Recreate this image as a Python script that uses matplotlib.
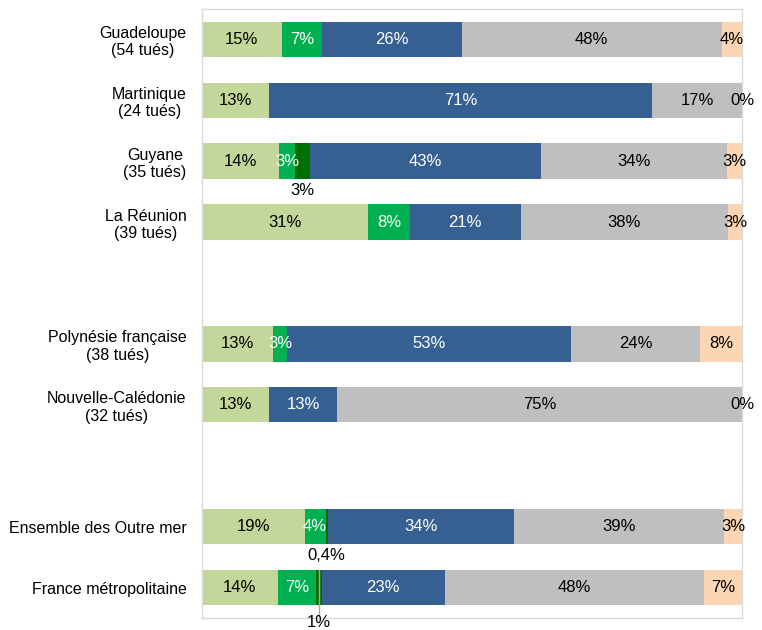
import numpy as np
import matplotlib.pyplot as plt

plt.rcParams['font.family'] = ['Liberation Sans', 'DejaVu Sans']

# "" = empty row used as a gap between groups
categories = ["Guadeloupe\n(54 tués)", "Martinique\n(24 tués)", "Guyane\n(35 tués)",
              "La Réunion\n(39 tués)", "", "Polynésie française\n(38 tués)",
              "Nouvelle-Calédonie\n(32 tués)", "", "Ensemble des Outre mer",
              "France métropolitaine"]
nan = np.nan
light_green = [14.8, 12.5, 14.3, 30.8, nan, 13.2, 12.5, nan, 19.0, 14.0]
green = [7.4, 0, 2.9, 7.7, nan, 2.6, 0, nan, 3.9, 7.2]
dark_green = [0, 0, 2.8, 0, nan, 0, 0, nan, 0.4, 1.0]
blue = [25.9, 70.8, 42.8, 20.5, nan, 52.6, 12.5, nan, 34.4, 22.7]
grey = [48.1, 16.7, 34.3, 38.4, nan, 23.7, 75.0, nan, 38.9, 48.0]
peach = [3.7, 0, 2.9, 2.6, nan, 7.9, 0, nan, 3.4, 7.0]

series = [light_green, green, dark_green, blue, grey, peach]
colors = ['#C4D79B', '#00B050', '#006F00', '#376092', '#BFBFBF', '#FCD5B4']
text_colors = ['black', 'white', 'black', 'white', 'black', 'black']


def fmt(v):
    if 0 < v < 1:
        return f"{v:.1f}%".replace('.', ',')
    return f"{int(v + 0.5)}%"


fig, ax = plt.subplots(figsize=(7.62, 6.3), dpi=100)
fig.subplots_adjust(left=0.265, right=0.974, bottom=0.019, top=0.986)

y = np.arange(len(categories))
left = np.zeros(len(categories))
for k, (vals, col, tcol) in enumerate(zip(series, colors, text_colors)):
    vals = np.array(vals, dtype=float)
    ax.barh(y, np.nan_to_num(vals), left=left, height=0.58, color=col,
            edgecolor='none')
    for i, v in enumerate(vals):
        if np.isnan(v):
            continue
        xc = left[i] + v / 2
        if k == 2:
            # dark green share: label below the bar
            if v > 0:
                if i == len(categories) - 1:
                    ax.plot([xc, xc], [y[i] - 0.29, y[i] + 0.47], color='#A6A6A6',
                            lw=1, clip_on=False, zorder=3)
                    ax.text(xc, y[i] + 0.57, fmt(v), ha='center', va='center',
                            fontsize=12, color='black', clip_on=False)
                else:
                    ax.text(xc, y[i] + 0.48, fmt(v), ha='center', va='center',
                            fontsize=12, color='black')
            continue
        if v > 0 or k == 5:
            ax.text(xc, y[i], fmt(v), ha='center', va='center', fontsize=12,
                    color=tcol, clip_on=False, zorder=4)
    left = left + np.nan_to_num(vals)

ax.set_xlim(0, 100)
ax.set_ylim(len(categories) - 0.5, -0.5)
ax.set_xticks([])
ax.set_yticks(y)
ax.set_yticklabels(categories, fontsize=11.5)
for lbl in ax.get_yticklabels():
    lbl.set_multialignment('center')
ax.tick_params(axis='y', length=0, pad=11)
for sp in ax.spines.values():
    sp.set_color('#D9D9D9')
    sp.set_linewidth(1)

plt.savefig('out.png', dpi=100)
